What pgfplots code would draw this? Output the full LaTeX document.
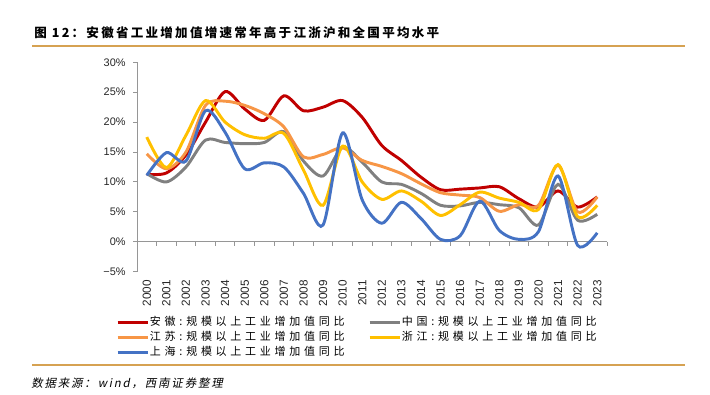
\documentclass[border=0pt]{standalone}
\usepackage{fontspec}
\usepackage{pgfplots}
\usepackage{pgfplotstable}
\pgfplotsset{compat=1.18}
\setmainfont{Liberation Sans}
\newfontfamily\cjk{Noto Sans CJK SC}
\newfontfamily\cjkleg[LetterSpace=34]{Noto Sans CJK SC}
\newfontfamily\cjktitle[LetterSpace=18]{Noto Sans CJK SC}
\newfontfamily\cjkfoot[FakeSlant=0.2,LetterSpace=16]{Noto Sans CJK SC}
\definecolor{ahred}{RGB}{192,0,0}
\definecolor{cngray}{RGB}{128,128,128}
\definecolor{jsorange}{RGB}{247,150,70}
\definecolor{zjyellow}{RGB}{255,192,0}
\definecolor{shblue}{RGB}{68,114,196}
\definecolor{rulec}{RGB}{214,162,82}
\definecolor{axgray}{RGB}{150,150,150}

\pgfplotstableread{
x ah cn js zj sh
0 11.3 11.4 14.7 17.5 11.1
1 11.5 10.0 12.2 12.4 14.9
2 14.5 12.5 15.0 17.8 13.5
3 20.0 17.0 22.8 23.6 21.9
4 25.1 16.6 23.5 20.0 18.3
5 22.2 16.4 22.8 17.9 12.2
6 20.3 16.6 21.4 17.3 13.2
7 24.4 18.4 19.2 18.1 12.5
8 21.9 13.5 14.2 12.0 8.1
9 22.5 11.0 14.6 6.1 2.8
10 23.6 15.8 15.7 16.0 18.2
11 20.8 13.3 13.6 10.0 7.0
12 16.1 10.0 12.6 7.1 3.1
13 13.6 9.6 11.4 8.5 6.6
14 10.8 8.1 9.7 6.8 3.9
15 8.7 6.1 8.2 4.4 0.4
16 8.8 6.0 7.8 6.2 1.0
17 9.0 6.6 7.4 8.3 6.8
18 9.2 6.2 5.1 7.3 1.9
19 7.2 5.7 6.2 6.6 0.4
20 5.8 2.8 6.1 5.4 1.7
21 8.5 9.6 12.8 12.9 11.0
22 5.8 3.6 5.0 4.2 -0.6
23 7.5 4.6 7.5 6.1 1.5
}\datatable

\begin{document}
\begin{tikzpicture}
\path[use as bounding box] (0,0) rectangle (532.5pt,-296.25pt);
\node[anchor=west, inner sep=0pt] at (25.5pt,-24.75pt) {\cjktitle\bfseries\fontsize{9.4pt}{11pt}\selectfont 图 12：安徽省工业增加值增速常年高于江浙沪和全国平均水平};
\draw[rulec, line width=1.1pt] (24pt,-34.5pt) -- (513.75pt,-34.5pt);
\draw[rulec, line width=0.9pt] (24pt,-273.75pt) -- (513.75pt,-273.75pt);
\node[anchor=west, inner sep=0pt] at (23.25pt,-287.25pt) {\cjkfoot\fontsize{8.6pt}{10pt}\selectfont 数据来源：\textit{wind}，西南证券整理};

\begin{axis}[
  at={(102.75pt,-203.775pt)}, anchor=south west,
  scale only axis, width=352.5pt, height=157.05pt,
  xmin=-0.5, xmax=23.5, ymin=-5, ymax=30,
  axis y line*=left, axis x line*=bottom,
  x axis line style={draw=none},
  y axis line style={axgray, line width=0.75pt},
  xtick={0,...,23},
  xticklabels={2000,2001,2002,2003,2004,2005,2006,2007,2008,2009,2010,2011,2012,2013,2014,2015,2016,2017,2018,2019,2020,2021,2022,2023},
  major x tick style={draw=none},
  xticklabel style={rotate=90, anchor=east, font=\fontsize{8.8pt}{10pt}\selectfont, text=black!85},
  ytick={-5,0,5,10,15,20,25,30},
  yticklabels={−5\%,0\%,5\%,10\%,15\%,20\%,25\%,30\%},
  yticklabel style={font=\fontsize{8.2pt}{10pt}\selectfont, text=black!85, xshift=-2pt},
  y tick style={axgray, line width=0.75pt},
  tick align=outside, major tick length=3pt,
  clip=false,
  legend columns=2,
  legend cell align=left,
  legend style={at={(-0.0447,-0.2044)}, anchor=north west, draw=none, fill=none, inner sep=0pt,
    font=\cjkleg\fontsize{8.25pt}{10pt}\selectfont,
    nodes={inner sep=0.6pt, text height=7.5pt, text depth=2.5pt},
    /tikz/column 2/.style={column sep=17pt}},
  legend image code/.code={\draw[#1, line width=2.2pt] (0pt,0pt) -- (22.5pt,0pt);},
  every axis plot/.append style={line width=2.2pt, smooth, tension=0.5, no markers},
]
\draw[axgray, line width=0.75pt] (axis cs:-0.5,0) -- (axis cs:23.5,0);
\pgfplotsinvokeforeach{-0.5,0.5,...,23.5}{\draw[axgray, line width=0.75pt] (axis cs:#1,0) -- ([yshift=-3pt]axis cs:#1,0);}
\addplot[ahred] table[x=x, y=ah] {\datatable};
\addlegendentry{安徽:规模以上工业增加值同比}
\addplot[cngray] table[x=x, y=cn] {\datatable};
\addlegendentry{中国:规模以上工业增加值同比}
\addplot[jsorange] table[x=x, y=js] {\datatable};
\addlegendentry{江苏:规模以上工业增加值同比}
\addplot[zjyellow] table[x=x, y=zj] {\datatable};
\addlegendentry{浙江:规模以上工业增加值同比}
\addplot[shblue] table[x=x, y=sh] {\datatable};
\addlegendentry{上海:规模以上工业增加值同比}
\end{axis}
\end{tikzpicture}
\end{document}
